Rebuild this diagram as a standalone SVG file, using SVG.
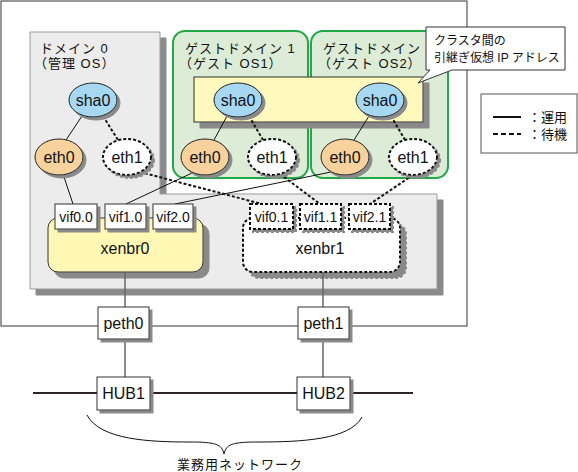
<svg xmlns="http://www.w3.org/2000/svg" width="578" height="472" viewBox="0 0 578 472">
<defs>
<filter id="sh" x="-20%" y="-20%" width="150%" height="150%"><feDropShadow dx="3" dy="3" stdDeviation="0" flood-color="#8a8a8a"/></filter>
<filter id="sh5" x="-20%" y="-20%" width="150%" height="150%"><feDropShadow dx="6" dy="6" stdDeviation="0" flood-color="#8a8a8a"/></filter>
</defs>
<style>
text{font-family:"Liberation Sans","Noto Sans CJK JP",sans-serif;fill:#111}
.lbl{font-size:16px;text-anchor:middle}
.vif{font-size:14px;text-anchor:middle}
.jp{font-size:13px;letter-spacing:1px}
.box{fill:#fff;stroke:#333;stroke-width:1}
.dbox{fill:#fff;stroke:#111;stroke-width:2;stroke-dasharray:3,2}
.sha{fill:#a6d8f2;stroke:#222;stroke-width:1}
.eth0{fill:#f8d29c;stroke:#222;stroke-width:1}
.eth1{fill:#fff;stroke:#111;stroke-width:2;stroke-dasharray:3,2}
.guest{fill:#dcecd7;stroke:#22a844;stroke-width:2}
.solid{stroke:#111;stroke-width:1;fill:none}
.dash{stroke:#111;stroke-width:2;stroke-dasharray:3,2;fill:none}
.gline{stroke:#666;stroke-width:1.5}
</style>

<rect id="outer" x="1" y="1" width="466" height="325" fill="#fff" stroke="#555" stroke-width="1.2"/>

<g id="bridge-area">
<path d="M30,32 H160 V194 H437 V289 H30 Z" fill="#ececec" stroke="#9a9a9a" stroke-width="1" filter="url(#sh5)"/>
</g>

<g id="domain0">
<text class="jp" x="40" y="53">ドメイン 0</text>
<text class="jp" x="34" y="68">（管理 OS）</text>
</g>

<g id="guest1">
<rect class="guest" x="173" y="31" width="135" height="147" rx="12"/>
<text class="jp" x="185" y="53">ゲストドメイン 1</text>
<text class="jp" x="179" y="68">（ゲスト OS1）</text>
</g>
<g id="guest2">
<rect class="guest" x="311" y="31" width="137" height="147" rx="12"/>
<text class="jp" x="323" y="53">ゲストドメイン</text>
<text class="jp" x="318" y="68">（ゲスト OS2）</text>
</g>

<g id="shared-ip">
<rect x="194" y="77" width="229" height="45" fill="#fff9bd" stroke="#333" stroke-width="1" filter="url(#sh5)"/>
</g>

<g id="callout">
<path d="M426,27 H565 V70 H452 L418,83 L430,70 H426 Z" fill="#fff" stroke="#333" stroke-width="1"/>
<text x="434" y="45" style="font-size:12px">クラスタ間の</text>
<text x="434" y="62" style="font-size:12px">引継ぎ仮想 IP アドレス</text>
</g>

<g id="legend">
<rect x="481" y="94" width="96" height="59" fill="#fff" stroke="#555" stroke-width="1"/>
<line x1="493" y1="117" x2="521" y2="117" stroke="#111" stroke-width="2"/>
<line x1="493" y1="134" x2="521" y2="134" stroke="#111" stroke-width="2" stroke-dasharray="5,3"/>
<text x="528" y="122" style="font-size:13px">：運用</text>
<text x="528" y="139" style="font-size:13px">：待機</text>
</g>

<g id="xenbr0">
<rect x="48" y="218" width="155" height="54" rx="10" fill="#fff8b4" stroke="#333" stroke-width="1" filter="url(#sh5)"/>
<text class="lbl" x="125" y="254">xenbr0</text>
</g>
<g id="xenbr1">
<rect x="243" y="218" width="157" height="54" rx="10" class="dbox" filter="url(#sh5)"/>
<text class="lbl" x="320" y="254">xenbr1</text>
</g>

<g id="connectors">
<line class="solid" x1="82" y1="116" x2="66" y2="140"/>
<line class="dash" x1="103" y1="116" x2="118" y2="140"/>
<line class="solid" x1="227" y1="116" x2="214" y2="140"/>
<line class="dash" x1="249" y1="116" x2="263" y2="140"/>
<line class="solid" x1="369" y1="116" x2="354" y2="140"/>
<line class="dash" x1="391" y1="116" x2="405" y2="140"/>
<line class="solid" x1="63" y1="174" x2="73" y2="204"/>
<line class="dash" x1="140" y1="172" x2="262" y2="204"/>
<line class="solid" x1="192" y1="173" x2="126" y2="204"/>
<line class="dash" x1="280" y1="174" x2="320" y2="204"/>
<line class="solid" x1="331" y1="172" x2="175" y2="204"/>
<line class="dash" x1="413" y1="175" x2="370" y2="204"/>
<line class="gline" x1="125" y1="272" x2="125" y2="307"/>
<line class="gline" x1="125" y1="339" x2="125" y2="377"/>
<line class="gline" x1="323" y1="272" x2="323" y2="307"/>
<line class="gline" x1="323" y1="339" x2="323" y2="377"/>
<line x1="33" y1="393" x2="413" y2="393" stroke="#2e2424" stroke-width="2"/>
<path d="M87,415 C100,440 150,442 190,442 C215,442 222,444 224,454 C226,444 233,442 258,442 C300,442 350,440 362,417" fill="none" stroke="#111" stroke-width="1"/>
</g>

<g id="sha0-d0"><ellipse class="sha" cx="93" cy="100" rx="24" ry="17" filter="url(#sh)"/><text class="lbl" x="93" y="106">sha0</text></g>
<g id="sha0-g1"><ellipse class="sha" cx="238" cy="100" rx="24" ry="17" filter="url(#sh)"/><text class="lbl" x="238" y="106">sha0</text></g>
<g id="sha0-g2"><ellipse class="sha" cx="380" cy="100" rx="24" ry="17" filter="url(#sh)"/><text class="lbl" x="380" y="106">sha0</text></g>

<g id="eth0-d0"><ellipse class="eth0" cx="59" cy="157" rx="24" ry="18" filter="url(#sh)"/><text class="lbl" x="59" y="163">eth0</text></g>
<g id="eth1-d0"><ellipse class="eth1" cx="127" cy="157" rx="24" ry="18" filter="url(#sh)"/><text class="lbl" x="127" y="163">eth1</text></g>
<g id="eth0-g1"><ellipse class="eth0" cx="205" cy="157" rx="24" ry="18" filter="url(#sh)"/><text class="lbl" x="205" y="163">eth0</text></g>
<g id="eth1-g1"><ellipse class="eth1" cx="272" cy="157" rx="24" ry="18" filter="url(#sh)"/><text class="lbl" x="272" y="163">eth1</text></g>
<g id="eth0-g2"><ellipse class="eth0" cx="345" cy="157" rx="24" ry="18" filter="url(#sh)"/><text class="lbl" x="345" y="163">eth0</text></g>
<g id="eth1-g2"><ellipse class="eth1" cx="413" cy="157" rx="24" ry="18" filter="url(#sh)"/><text class="lbl" x="413" y="163">eth1</text></g>

<g id="vif0.0"><rect class="box" x="55" y="204" width="42" height="25" filter="url(#sh)"/><text class="vif" x="76" y="221.5">vif0.0</text></g>
<g id="vif1.0"><rect class="box" x="105" y="204" width="41" height="25" filter="url(#sh)"/><text class="vif" x="125.5" y="221.5">vif1.0</text></g>
<g id="vif2.0"><rect class="box" x="153" y="204" width="40" height="25" filter="url(#sh)"/><text class="vif" x="173" y="221.5">vif2.0</text></g>
<g id="vif0.1"><rect class="dbox" x="250" y="204" width="43" height="25" filter="url(#sh)"/><text class="vif" x="271.5" y="221.5">vif0.1</text></g>
<g id="vif1.1"><rect class="dbox" x="300" y="204" width="41" height="25" filter="url(#sh)"/><text class="vif" x="320.5" y="221.5">vif1.1</text></g>
<g id="vif2.1"><rect class="dbox" x="349" y="204" width="41" height="25" filter="url(#sh)"/><text class="vif" x="369.5" y="221.5">vif2.1</text></g>

<g id="peth0"><rect class="box" x="98" y="307" width="51" height="32" filter="url(#sh)"/><text class="lbl" x="123.5" y="329">peth0</text></g>
<g id="peth1"><rect class="box" x="298" y="307" width="51" height="32" filter="url(#sh)"/><text class="lbl" x="323.5" y="329">peth1</text></g>
<g id="hub1"><rect class="box" x="97" y="377" width="53" height="33" filter="url(#sh)"/><text class="lbl" x="123.5" y="399">HUB1</text></g>
<g id="hub2"><rect class="box" x="297" y="377" width="53" height="33" filter="url(#sh)"/><text class="lbl" x="323.5" y="399">HUB2</text></g>

<text x="177" y="469" style="font-size:13px;letter-spacing:1px">業務用ネットワーク</text>
</svg>
